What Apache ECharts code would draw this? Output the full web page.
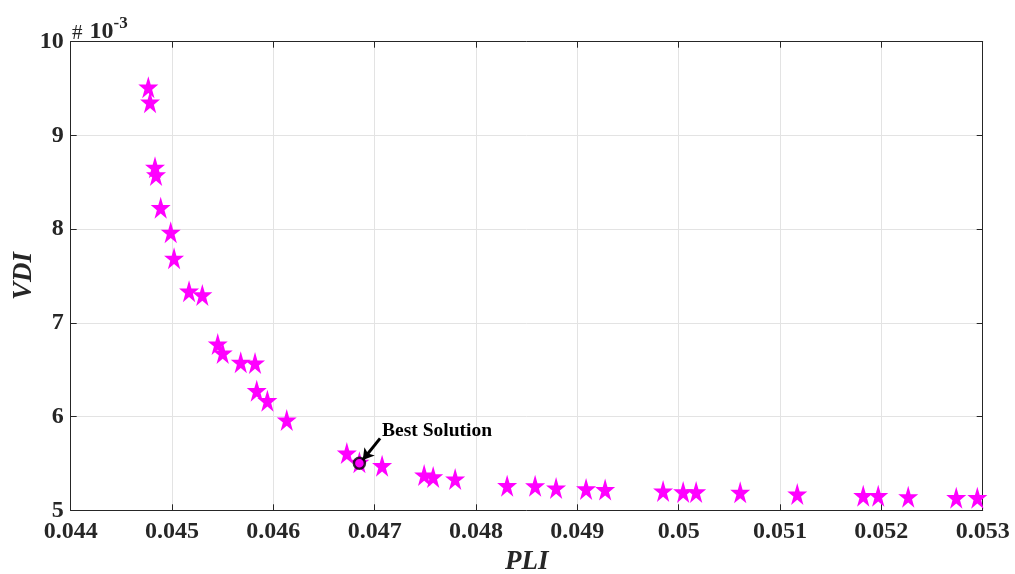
<!DOCTYPE html>
<html>
<head>
<meta charset="utf-8">
<script src="https://cdn.jsdelivr.net/npm/echarts@6/dist/echarts.min.js"></script>
<style>
  html, body { margin: 0; padding: 0; background: #fff; }
  #chart { width: 1015px; height: 574px; }
</style>
</head>
<body>
<div id="chart"></div>
<script>
// Pareto front: power loss index (PLI) vs voltage deviation index (VDI, in 1e-3)
const pli = [
  0.044766, 0.044783, 0.044832, 0.044842, 0.044888, 0.044987, 0.045020,
  0.045168, 0.045299, 0.045451, 0.045500, 0.045678, 0.045819, 0.045836,
  0.045941, 0.046132, 0.046725, 0.046849, 0.047073, 0.047488, 0.047577,
  0.047794, 0.048307, 0.048583, 0.048790, 0.049086, 0.049274, 0.049846,
  0.050044, 0.050172, 0.050607, 0.051170, 0.051821, 0.051969, 0.052265,
  0.052739, 0.052947
];
const vdi = [
  9.504, 9.344, 8.650, 8.568, 8.218, 7.956, 7.679,
  7.327, 7.287, 6.764, 6.668, 6.569, 6.561, 6.266,
  6.159, 5.953, 5.600, 5.502, 5.465, 5.366, 5.345,
  5.323, 5.252, 5.250, 5.227, 5.217, 5.210, 5.195,
  5.185, 5.185, 5.181, 5.163, 5.145, 5.145, 5.134,
  5.124, 5.124
];
const best = [0.046849, 5.502];
const bestLabel = 'Best Solution';
const arrowFrom = [0.047053, 5.768];
const arrowTo = [0.046882, 5.537];

const xTicks = { min: 0.044, max: 0.053, step: 0.001 };
const yTicks = { min: 5, max: 10, step: 1 };

const starPath = 'path://M50 0 L61.23 34.55 L97.55 34.55 L68.17 55.9 L79.39 90.45 L50 69.1 L20.61 90.45 L31.83 55.9 L2.45 34.55 L38.77 34.55 Z';

const points = pli.map((x, i) => [x, vdi[i]]);

const serif = '"Liberation Serif", "DejaVu Serif", serif';
const ink = '#262626';

const chart = echarts.init(document.getElementById('chart'), null, { renderer: 'canvas' });

const axisCommon = {
  axisLine: { show: true, lineStyle: { color: ink, width: 1 } },
  axisTick: { show: true, inside: true, length: 6, lineStyle: { color: ink, width: 1 } },
  splitLine: { show: true, lineStyle: { color: '#e3e3e3', width: 1 } }
};

chart.setOption({
  animation: false,
  backgroundColor: '#ffffff',
  grid: {
    left: 70.7, right: 32.3, top: 41.7, bottom: 63.7,
    containLabel: false, outerBoundsMode: 'none'
  },
  xAxis: [
    Object.assign({
      type: 'value', position: 'bottom',
      min: xTicks.min, max: xTicks.max, interval: xTicks.step,
      name: 'PLI', nameLocation: 'middle', nameGap: 37,
      nameTextStyle: { fontFamily: serif, fontSize: 27, fontWeight: 'bold', fontStyle: 'italic', color: ink },
      axisLabel: { fontFamily: serif, fontSize: 24, fontWeight: 'bold', color: ink, margin: 9 }
    }, axisCommon),
    {
      type: 'value', position: 'top',
      min: xTicks.min, max: xTicks.max, interval: xTicks.step,
      axisLine: { show: true, lineStyle: { color: ink, width: 1 } },
      axisTick: { show: true, inside: true, length: 6, lineStyle: { color: ink } },
      axisLabel: { show: false }, splitLine: { show: false }
    }
  ],
  yAxis: [
    Object.assign({
      type: 'value', position: 'left',
      min: yTicks.min, max: yTicks.max, interval: yTicks.step,
      name: 'VDI', nameLocation: 'middle', nameGap: 33, nameMoveOverlap: false,
      nameTextStyle: { fontFamily: serif, fontSize: 27, fontWeight: 'bold', fontStyle: 'italic', color: ink },
      axisLabel: { fontFamily: serif, fontSize: 24, fontWeight: 'bold', color: ink, margin: 7 }
    }, axisCommon),
    {
      type: 'value', position: 'right',
      min: yTicks.min, max: yTicks.max, interval: yTicks.step,
      axisLine: { show: true, lineStyle: { color: ink, width: 1 } },
      axisTick: { show: true, inside: true, length: 6, lineStyle: { color: ink } },
      axisLabel: { show: false }, splitLine: { show: false }
    }
  ],
  graphic: [
    {
      // axis multiplier shown above the y axis
      type: 'text', left: 72, top: 15,
      style: {
        text: '{h|#}{b|10}{s|-3}',
        rich: {
          h: { fontFamily: serif, fontSize: 21, fill: ink, verticalAlign: 'bottom', padding: [0, 7, 0, 0] },
          b: { fontFamily: serif, fontSize: 24, fontWeight: 'bold', fill: ink, verticalAlign: 'bottom' },
          s: { fontFamily: serif, fontSize: 17, fontWeight: 'bold', fill: ink, verticalAlign: 'top', padding: [0, 0, 12, 0] }
        }
      }
    }
  ],
  series: [
    {
      type: 'scatter',
      data: points,
      symbol: starPath,
      symbolKeepAspect: false,
      symbolSize: [20, 22],
      symbolOffset: [0, -1],
      itemStyle: { color: '#ff00ff', opacity: 1 },
      z: 2
    },
    {
      type: 'scatter',
      data: [best],
      symbol: 'circle',
      symbolSize: 11,
      itemStyle: { color: '#ff00ff', borderColor: '#000000', borderWidth: 2.5 },
      label: { show: false },
      z: 4,
      markLine: {
        silent: true,
        symbol: ['none', 'arrow'],
        symbolSize: [10, 11],
        label: { show: false },
        lineStyle: { color: '#000000', width: 3, type: 'solid' },
        data: [[{ coord: arrowFrom }, { coord: arrowTo }]]
      },
      markPoint: {
        silent: true,
        symbol: 'circle', symbolSize: 0,
        data: [{ coord: [arrowFrom[0] + 0.00002, arrowFrom[1] + 0.08] }],
        label: {
          show: true, formatter: bestLabel, position: 'right', distance: 0,
          fontFamily: serif, fontSize: 19.5, fontWeight: 'bold', color: '#000000'
        }
      }
    }
  ]
});
</script>
</body>
</html>
